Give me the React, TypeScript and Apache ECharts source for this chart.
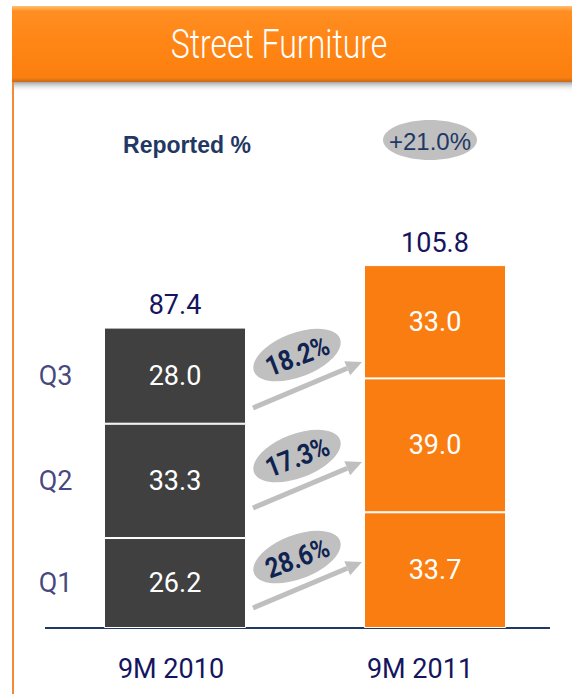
import React, { useEffect, useRef } from 'react';
import * as echarts from 'echarts';

const categories = ['9M 2010', '9M 2011'];
const quarterNames = ['Q1', 'Q2', 'Q3'];
const q1Values = [26.2, 33.7];
const q2Values = [33.3, 39.0];
const q3Values = [28.0, 33.0];
const totals = [87.4, 105.8];
const quarterGrowth = ['28.6%', '17.3%', '18.2%']; // Q1, Q2, Q3
const reportedGrowth = '+21.0%';
const title = 'Street Furniture';
const reportedLabel = 'Reported %';

const NARROW = "Roboto, 'DejaVu Sans Condensed', sans-serif";
const SANS = "'Liberation Sans', Arial, sans-serif";
const DARK = '#404040';
const ORANGE = '#FA7D12';
const NAVY = '#15155E';
const NAVY2 = '#1F3864';
const NUM_SIZE = 27;

function arrow(x1: number, y1: number, x2: number, y2: number) {
  const ang = Math.atan2(y2 - y1, x2 - x1);
  const len = 16;
  const hw = 7.5;
  const bx = x2 - len * Math.cos(ang);
  const by = y2 - len * Math.sin(ang);
  const px = -Math.sin(ang);
  const py = Math.cos(ang);
  return [
    {
      type: 'line',
      shape: { x1, y1, x2: bx, y2: by },
      style: { stroke: '#BFBFBF', lineWidth: 5 },
      silent: true,
    },
    {
      type: 'polygon',
      shape: {
        points: [
          [x2, y2],
          [bx + px * hw, by + py * hw],
          [bx - px * hw, by - py * hw],
        ],
      },
      style: { fill: '#BFBFBF' },
      silent: true,
    },
  ];
}

function badge(cx: number, cy: number, text: string) {
  return {
    type: 'group',
    x: cx,
    y: cy,
    rotation: (21 * Math.PI) / 180,
    silent: true,
    children: [
      { type: 'ellipse', shape: { cx: 0, cy: 0, rx: 46, ry: 22 }, style: { fill: '#C0C0C0' } },
      {
        type: 'text',
        x: 0,
        y: 1,
        scaleX: 0.86,
        style: {
          text,
          fill: '#0F2350',
          font: `bold 28px ${NARROW}`,
          align: 'center',
          verticalAlign: 'middle',
        },
      },
    ],
  };
}

export default function App() {
  const ref = useRef<HTMLDivElement>(null);
  useEffect(() => {
    document.body.style.margin = '0';
    if (!ref.current) return;
    const chart = echarts.init(ref.current, null, { renderer: 'svg' });
    const colorFn = (p: any) => (p.dataIndex === 0 ? DARK : ORANGE);
    const segLabel = {
      show: true,
      position: 'inside',
      color: '#fff',
      fontSize: NUM_SIZE,
      fontFamily: NARROW,
      formatter: (p: any) => p.value.toFixed(1),
    };
    const barBase = {
      type: 'bar',
      stack: 'total',
      barWidth: 142,
      itemStyle: { color: colorFn, borderColor: '#fff', borderWidth: 1 },
      label: segLabel,
    };
    const mids = [
      q1Values[0] / 2,
      q1Values[0] + q2Values[0] / 2,
      q1Values[0] + q2Values[0] + q3Values[0] / 2,
    ];
    const arrowStarts = [608, 508, 408];
    const badgeCenters = [557, 456, 355];
    const graphics: any[] = [
      {
        type: 'rect',
        shape: { x: 12, y: 82, width: 560, height: 10 },
        style: {
          fill: new echarts.graphic.LinearGradient(0, 0, 0, 1, [
            { offset: 0, color: 'rgba(90,90,90,0.55)' },
            { offset: 1, color: 'rgba(255,255,255,0)' },
          ]),
        },
        silent: true,
      },
      {
        type: 'rect',
        shape: { x: 12, y: 6, width: 560, height: 76 },
        style: {
          fill: new echarts.graphic.LinearGradient(0, 0, 0, 1, [
            { offset: 0, color: '#FFC070' },
            { offset: 0.07, color: '#FF8E22' },
            { offset: 0.5, color: '#FF8514' },
            { offset: 0.94, color: '#FA7F10' },
            { offset: 1, color: '#C86A1A' },
          ]),
        },
        silent: true,
      },
      {
        type: 'line',
        shape: { x1: 13, y1: 82, x2: 13, y2: 694 },
        style: { stroke: '#F28A3A', lineWidth: 2 },
        silent: true,
      },
      {
        type: 'text',
        x: 279,
        y: 44,
        scaleX: 0.8,
        style: {
          text: title,
          fill: '#fff',
          font: `300 40px ${NARROW}`,
          align: 'center',
          verticalAlign: 'middle',
        },
        silent: true,
      },
      {
        type: 'text',
        x: 187,
        y: 145,
        style: {
          text: reportedLabel,
          fill: NAVY2,
          font: `bold 23px ${SANS}`,
          align: 'center',
          verticalAlign: 'middle',
        },
        silent: true,
      },
      {
        type: 'ellipse',
        shape: { cx: 430, cy: 140, rx: 47, ry: 20 },
        style: { fill: '#C0C0C0' },
        silent: true,
      },
      {
        type: 'text',
        x: 430,
        y: 141,
        style: {
          text: reportedGrowth,
          fill: NAVY2,
          font: `24px ${SANS}`,
          align: 'center',
          verticalAlign: 'middle',
        },
        silent: true,
      },
      {
        type: 'line',
        shape: { x1: 45, y1: 628, x2: 550, y2: 628 },
        style: { stroke: NAVY2, lineWidth: 2 },
        silent: true,
      },
    ];
    for (let i = 0; i < 3; i++) {
      graphics.push(...arrow(253, arrowStarts[i], 362, arrowStarts[i] - 46));
      graphics.push(badge(297, badgeCenters[i], quarterGrowth[i]));
    }

    chart.setOption({
      animation: false,
      grid: { left: 45, right: 7, top: 216, bottom: 66 },
      xAxis: {
        type: 'category',
        data: categories,
        axisLine: { show: false },
        axisTick: { show: false },
        axisLabel: {
          margin: 27,
          formatter: (v: string, i: number) => (i === 0 ? `{a|${v}}` : `{b|${v}}`),
          rich: {
            a: { fontSize: NUM_SIZE, fontFamily: NARROW, color: NAVY, padding: [0, 8, 0, 0] },
            b: { fontSize: NUM_SIZE, fontFamily: NARROW, color: NAVY, padding: [0, 30, 0, 0] },
          },
        },
      },
      yAxis: { type: 'value', min: 0, max: 120, show: false, splitLine: { show: false } },
      series: [
        { ...barBase, name: quarterNames[0], data: q1Values },
        { ...barBase, name: quarterNames[1], data: q2Values },
        { ...barBase, name: quarterNames[2], data: q3Values },
        {
          type: 'bar',
          stack: 'total',
          barWidth: 142,
          data: [0, 0],
          itemStyle: { color: 'transparent', borderWidth: 0 },
          label: {
            show: true,
            position: 'top',
            distance: 9,
            color: NAVY,
            fontSize: NUM_SIZE,
            fontFamily: NARROW,
            formatter: (p: any) => totals[p.dataIndex].toFixed(1),
          },
        },
        {
          type: 'scatter',
          data: mids.map((m) => [categories[0], m]),
          symbolSize: 1,
          itemStyle: { color: 'transparent' },
          label: {
            show: true,
            position: 'left',
            distance: 102,
            color: NAVY,
            fontSize: NUM_SIZE,
            fontFamily: NARROW,
            formatter: (p: any) => quarterNames[p.dataIndex],
          },
        },
      ],
      graphic: graphics,
    });
    return () => chart.dispose();
  }, []);
  return <div ref={ref} style={{ width: 572, height: 694 }} />;
}
